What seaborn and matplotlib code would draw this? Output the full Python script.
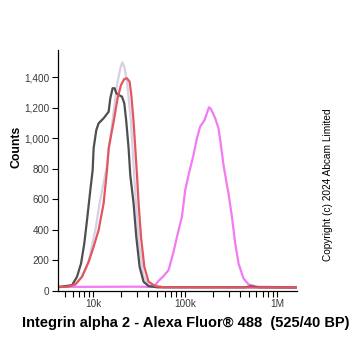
import pandas as pd
import numpy as np
import matplotlib
matplotlib.use("Agg")
import matplotlib.pyplot as plt
import seaborn as sns
from matplotlib.ticker import FixedLocator, FuncFormatter, LogLocator, NullFormatter

# Histogram traces (fluorescence, counts)
unstained_x = [4150, 5916, 6696, 7413, 8035, 8604, 9349, 9908, 10150, 10860, 11500,
               13040, 14790, 15420, 16330, 17160, 17920, 18970, 20660, 21890, 23020,
               24380, 25430, 27610, 29560, 32120, 35490, 40190, 50000, 450000, 520000,
               650000, 1650000]
unstained_y = [22, 36, 91, 179, 310, 463, 660, 791, 934, 1054, 1098,
               1131, 1174, 1262, 1328, 1328, 1295, 1284, 1273, 1229, 1108,
               934, 758, 573, 353, 156, 58, 30, 22, 22, 28,
               22, 20]

isotype_x = [4150, 5213, 6426, 7586, 8954, 10590, 11790, 14190, 15420, 16750, 18230,
             19820, 20800, 21890, 23420, 25880, 27200, 29170, 31840, 35240, 39900,
             50000, 1650000]
isotype_y = [22, 25, 40, 91, 190, 397, 573, 824, 999, 1174, 1349,
             1459, 1498, 1469, 1371, 1108, 890, 594, 299, 102, 36,
             22, 20]

negative_x = [4150, 5213, 6426, 7586, 8954, 10150, 11500, 13040, 14190, 14790, 16750,
              18500, 20140, 21880, 23420, 25000, 26080, 27610, 28830, 30080, 31310,
              33260, 36150, 40190, 47530, 60000, 1650000]
negative_y = [25, 25, 41, 91, 189, 288, 397, 573, 791, 934, 1108,
              1262, 1349, 1389, 1393, 1371, 1284, 1108, 934, 758, 573,
              353, 156, 58, 30, 22, 20]

sample_x = [4150, 10000, 30000, 45000, 47530, 51640, 58490, 66360, 75180, 81880, 92760,
            100700, 109400, 123900, 134900, 146500, 163200, 173400, 182300, 191700,
            213500, 231900, 246200, 262900, 286300, 297800, 324400, 352400, 382800,
            433600, 491300, 606100, 1650000]
sample_y = [25, 25, 26, 24, 36, 64, 95, 135, 255, 353, 485,
            660, 758, 890, 999, 1076, 1119, 1163, 1203, 1192,
            1131, 1065, 955, 824, 693, 638, 485, 310, 179,
            80, 41, 25, 22]

series = {
    "isotype": (isotype_x, isotype_y),
    "sample": (sample_x, sample_y),
    "unstained": (unstained_x, unstained_y),
    "negative": (negative_x, negative_y),
}
colors = {
    "isotype": "#d6d0e6",
    "sample": "#f27af2",
    "unstained": "#4f4f4f",
    "negative": "#e2565f",
}

frames = []
for name, (xs, ys) in series.items():
    frames.append(pd.DataFrame({"fluor": xs, "count": ys, "trace": name}))
df = pd.concat(frames, ignore_index=True)

sns.set_style("ticks")
plt.rcParams["font.family"] = ["Liberation Sans", "DejaVu Sans"]

fig = plt.figure(figsize=(3.62, 3.51), dpi=100)
ax = fig.add_axes([0.160, 0.172, 0.660, 0.686])

sns.lineplot(data=df, x="fluor", y="count", hue="trace", palette=colors,
             hue_order=list(series.keys()), sort=False, estimator=None,
             linewidth=1.6, legend=False, ax=ax)
for line in ax.get_lines():
    line.set_solid_joinstyle("round")
    line.set_solid_capstyle("round")

ax.set_xscale("log")
ax.set_xlim(4150, 1650000)
ax.set_ylim(0, 1580)

ax.xaxis.set_major_locator(FixedLocator([1e4, 1e5, 1e6]))
ax.xaxis.set_major_formatter(FuncFormatter(lambda v, p: {1e4: "10k", 1e5: "100k", 1e6: "1M"}.get(v, "")))
ax.xaxis.set_minor_locator(LogLocator(base=10, subs=np.arange(2, 10)))
ax.xaxis.set_minor_formatter(NullFormatter())
ax.set_yticks(np.arange(0, 1401, 200))
ax.yaxis.set_major_formatter(FuncFormatter(lambda v, p: f"{int(v):,}"))

ax.tick_params(axis="both", which="both", direction="out", length=4, width=0.8,
               labelsize=7.2, color="black", labelcolor="#3a3a3a", pad=2)
for s in ["left", "bottom"]:
    ax.spines[s].set_color("black")
    ax.spines[s].set_linewidth(0.9)
sns.despine(ax=ax)
ax.set_xlabel("")
ax.set_ylabel("")

fig.text(0.512, 0.080, "Integrin alpha 2 - Alexa Fluor\u00ae 488  (525/40 BP)",
         ha="center", va="center", fontsize=10.5, fontweight="bold", color="black")
fig.text(0.046, 0.581, "Counts", ha="center", va="center", rotation=90,
         fontsize=8.8, fontweight="bold", color="black")
fig.text(0.906, 0.474, "Copyright (c) 2024 Abcam Limited", ha="center", va="center",
         rotation=90, fontsize=7.3, color="black")

fig.savefig("out.png", dpi=100)
